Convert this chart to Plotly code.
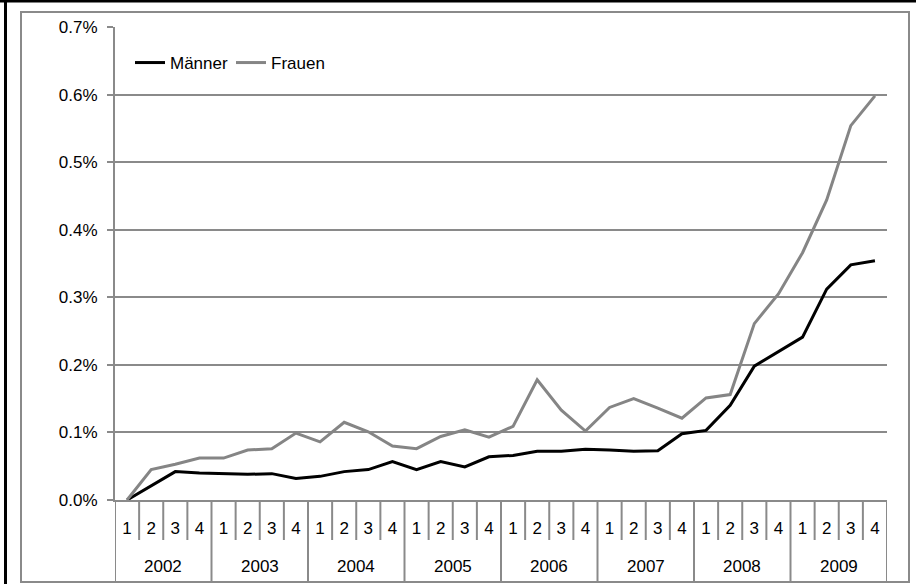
import plotly.graph_objects as go

# Anteil in Prozent, Quartale 2002-2009
years = [2002, 2003, 2004, 2005, 2006, 2007, 2008, 2009]
quarters = [1, 2, 3, 4]
maenner = [0.000, 0.021, 0.042, 0.040, 0.039, 0.038, 0.039, 0.032,
           0.035, 0.042, 0.045, 0.057, 0.045, 0.057, 0.049, 0.064,
           0.066, 0.072, 0.072, 0.075, 0.074, 0.072, 0.073, 0.098,
           0.103, 0.140, 0.198, 0.219, 0.241, 0.312, 0.348, 0.354]
frauen = [0.000, 0.045, 0.053, 0.062, 0.062, 0.074, 0.076, 0.099,
          0.086, 0.115, 0.101, 0.080, 0.076, 0.094, 0.104, 0.093,
          0.109, 0.178, 0.133, 0.102, 0.137, 0.150, 0.136, 0.121,
          0.151, 0.156, 0.261, 0.305, 0.366, 0.444, 0.554, 0.598]

W, H = 916, 584
L, R, T, B = 115, 887, 27, 500
GRID = "#8a8a8a"
FONT = "Liberation Sans, Arial, sans-serif"
FS = 17


def px_x(px):
    return (px - L) / (R - L)


def px_y(py):
    return (B - py) / (B - T)


q_labels = [str(q) for y in years for q in quarters]
idx = list(range(len(q_labels)))

fig = go.Figure()
fig.add_trace(go.Scatter(x=idx, y=[v / 100 for v in maenner], name="Männer",
                         mode="lines", line=dict(color="black", width=3)))
fig.add_trace(go.Scatter(x=idx, y=[v / 100 for v in frauen], name="Frauen",
                         mode="lines", line=dict(color="#858585", width=3)))

shapes = []
# separators of the two-level category axis
for i in range(len(idx) + 1):
    year_edge = i % len(quarters) == 0
    shapes.append(dict(type="line", xref="x", yref="paper", x0=i - 0.5, x1=i - 0.5,
                       y0=0, y1=px_y(582 if year_edge else 540),
                       line=dict(color=GRID, width=2)))
# chart frame
shapes.append(dict(type="rect", xref="paper", yref="paper",
                   x0=px_x(21), x1=px_x(909), y0=px_y(582), y1=px_y(12),
                   line=dict(color=GRID, width=2)))
shapes.append(dict(type="line", xref="paper", yref="paper",
                   x0=px_x(0), x1=px_x(W), y0=px_y(1), y1=px_y(1),
                   line=dict(color="black", width=3)))
shapes.append(dict(type="line", xref="paper", yref="paper",
                   x0=px_x(5.5), x1=px_x(5.5), y0=px_y(0), y1=px_y(H),
                   line=dict(color="black", width=3)))

annotations = []
for k, yr in enumerate(years):
    center = k * len(quarters) + (len(quarters) - 1) / 2
    annotations.append(dict(x=center, xref="x", y=px_y(566), yref="paper",
                            yanchor="middle", text=str(yr), showarrow=False,
                            font=dict(size=FS, color="black", family=FONT)))

fig.update_layout(
    width=W, height=H,
    margin=dict(l=L, r=W - R, t=T, b=H - B),
    paper_bgcolor="white", plot_bgcolor="white",
    font=dict(family=FONT, size=FS, color="black"),
    shapes=shapes, annotations=annotations,
    legend=dict(orientation="h", x=px_x(130), y=px_y(45), xanchor="left", yanchor="top",
                bgcolor="rgba(0,0,0,0)", font=dict(size=FS), itemwidth=30,
                entrywidth=56, tracegroupgap=0),
    xaxis=dict(range=[-0.5, len(idx) - 0.5], tickvals=idx, ticktext=q_labels,
               showgrid=False, zeroline=False, showline=True, linecolor=GRID, linewidth=2,
               ticks="outside", ticklen=12, tickcolor="rgba(0,0,0,0)",
               tickfont=dict(size=FS)),
    yaxis=dict(range=[0, 0.007], dtick=0.001, tickformat=".1%",
               showgrid=True, gridcolor=GRID, gridwidth=1.5, zeroline=False,
               showline=True, linecolor=GRID, linewidth=2,
               ticks="outside", ticklen=6, tickcolor=GRID, tickwidth=1.5,
               ticklabelstandoff=6, tickfont=dict(size=FS)),
)

fig.write_html("out.html", config={"displayModeBar": False},
               post_script="document.body.style.margin = '0';")
